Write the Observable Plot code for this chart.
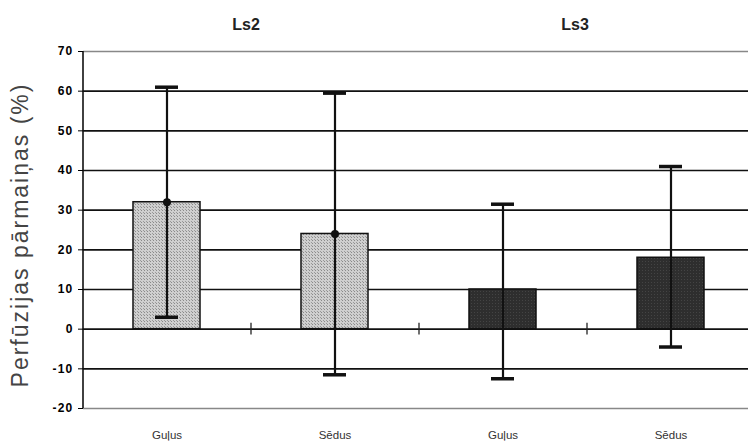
<!DOCTYPE html>
<html><head><meta charset="utf-8">
<script src="https://cdn.jsdelivr.net/npm/d3@7"></script>
<script src="https://cdn.jsdelivr.net/npm/@observablehq/plot@0.6"></script>
<style>body{margin:0;background:#fff;} svg{display:block;}</style>
</head><body><div id="chart"></div>
<script>
const groups = ["Ls2", "Ls2", "Ls3", "Ls3"];
const positions = ["Guļus", "Sēdus", "Guļus", "Sēdus"];
const means = [32, 24, 10, 18];
const lows = [3, -11.5, -12.5, -4.5];
const highs = [61, 59.5, 31.5, 41];
const yTicks = [70, 60, 50, 40, 30, 20, 10, 0, -10, -20];
const groupNames = ["Ls2", "Ls3"];
const yLabel = "Perfūzijas pārmaiņas (%)";

const data = groups.map((g, i) => ({key: g + "|" + positions[i], group: g, pos: positions[i], mean: means[i], lo: lows[i], hi: highs[i]}));
const keys = data.map(d => d.key);
const innerTicks = yTicks.filter(t => t !== 70 && t !== -20);
const edgeTicks = [70, -20];
const groupFirst = groupNames.map(g => ({g, key: data.find(d => d.group === g).key}));

const plot = Plot.plot({
  width: 748, height: 443,
  marginLeft: 83, marginRight: 0, marginTop: 51, marginBottom: 35,
  style: {fontFamily: "Liberation Sans, Arial, sans-serif", background: "#fff"},
  x: {type: "band", domain: keys, range: [83, 755], paddingInner: 0.6, paddingOuter: 0.3, label: null},
  y: {domain: [-20, 70], ticks: yTicks, label: null},
  marks: [
    Plot.ruleY(innerTicks, {stroke: "#111", strokeWidth: 1.6}),
    Plot.ruleY(edgeTicks, {stroke: "#888", strokeWidth: 1.4}),
    Plot.ruleX([keys[0]], {y1: -20, y2: 70, dx: -84, stroke: "#111", strokeWidth: 1.6}),
    Plot.ruleX(keys.slice(0, 3), {y1: -1.5, y2: 1.5, dx: 84, stroke: "#222", strokeWidth: 1.3}),
    Plot.barY(data, {x: "key", y: "mean", fill: d => d.group === "Ls2" ? "url(#dotsLight)" : "url(#dotsDark)", stroke: "#111", strokeWidth: 1.5}),
    Plot.ruleX(data, {x: "key", y1: "lo", y2: "hi", stroke: "#111", strokeWidth: 2.2}),
    Plot.tickY(data, {x: "key", y: "lo", insetLeft: 22, insetRight: 22, stroke: "#111", strokeWidth: 3.5}),
    Plot.tickY(data, {x: "key", y: "hi", insetLeft: 22, insetRight: 22, stroke: "#111", strokeWidth: 3.5}),
    Plot.dot(data.filter(d => d.group === "Ls2"), {x: "key", y: "mean", r: 4, fill: "#111"}),
    Plot.axisY({ticks: yTicks, tickSize: 5, tickPadding: 5, fontSize: 12, fontWeight: "bold", label: null, tickFormat: d => String(d)}),
    Plot.axisX({tickSize: 0, tickPadding: 22, fontSize: 11.5, fill: "#333", label: null, tickFormat: k => k.split("|")[1]}),
    Plot.text(groupFirst.slice(0, 1), {x: "key", text: "g", dx: 79, frameAnchor: "top", dy: -33, fontSize: 16, fontWeight: "bold", fill: "#222"}),
    Plot.text(groupFirst.slice(1, 2), {x: "key", text: "g", dx: 72, frameAnchor: "top", dy: -33, fontSize: 16, fontWeight: "bold", fill: "#222"}),
    Plot.text([yLabel], {text: d => d, frameAnchor: "left", textAnchor: "middle", rotate: -90, dx: -63, dy: 5, fontSize: 23, fill: "#444"})
  ]
});

const svg = d3.select(plot);
svg.selectAll("[aria-label='y-axis tick label'] text").style("letter-spacing", "1.2px");
svg.selectAll("text").filter(function() { return this.textContent === yLabel; }).style("letter-spacing", "2px");
const defs = svg.insert("defs", ":first-child");
const pl = defs.append("pattern").attr("id", "dotsLight").attr("width", 3).attr("height", 3).attr("patternUnits", "userSpaceOnUse");
pl.append("rect").attr("width", 3).attr("height", 3).attr("fill", "#cfcfcf");
pl.append("rect").attr("width", 1).attr("height", 1).attr("fill", "#8a8a8a");
pl.append("rect").attr("x", 2).attr("y", 2).attr("width", 1).attr("height", 1).attr("fill", "#9a9a9a");
const pd = defs.append("pattern").attr("id", "dotsDark").attr("width", 3).attr("height", 3).attr("patternUnits", "userSpaceOnUse");
pd.append("rect").attr("width", 3).attr("height", 3).attr("fill", "#2e2e2e");
pd.append("rect").attr("width", 1).attr("height", 1).attr("fill", "#444");
document.getElementById("chart").appendChild(plot);
</script>
</body></html>
